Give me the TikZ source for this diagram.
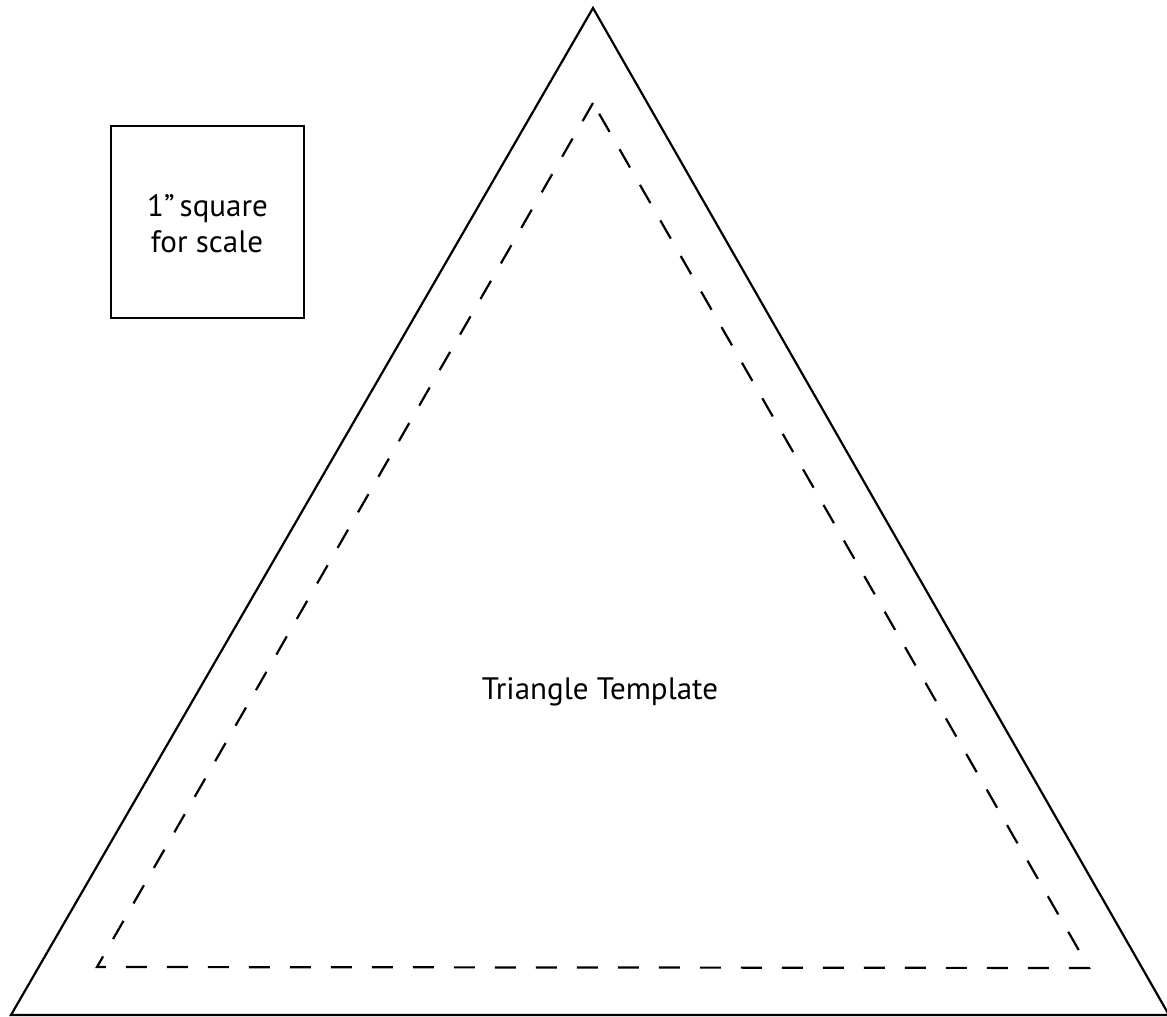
\documentclass[tikz,border=0pt]{standalone}
\usepackage{fontspec}
\setmainfont{PT Sans}
\begin{document}
\begin{tikzpicture}[x=1pt,y=1pt,
  outline/.style={line width=2.2pt,line join=miter},
  seam/.style={line width=2.2pt,dash pattern=on 21pt off 20pt},
  lbl/.style={font=\fontsize{31}{36}\selectfont,inner sep=0pt,anchor=base}]
\useasboundingbox (0,0) rectangle (1167,1017);
% outer triangle
\coordinate (A) at (593,1009);
\coordinate (B) at (11,2);
\coordinate (C) at (1169,2);
\draw[outline] (A) -- (B) -- (C) -- cycle;
% inner dashed triangle
\coordinate (a) at (593,914);
\coordinate (b) at (97,50);
\coordinate (c) at (1089,49);
\draw[seam] (a) -- (b) -- (c) -- cycle;
% scale square
\node[draw,line width=2.2pt,minimum width=193pt,minimum height=192pt,inner sep=0pt] (sq) at (207.5,795) {};
\node[lbl] (sqt1) at (207.5,800) {1\textquotedblright\,square};
\node[lbl] (sqt2) at (207,764) {for scale};
\node[lbl] (tt) at (600,317) {Triangle Template};
\end{tikzpicture}
\end{document}
